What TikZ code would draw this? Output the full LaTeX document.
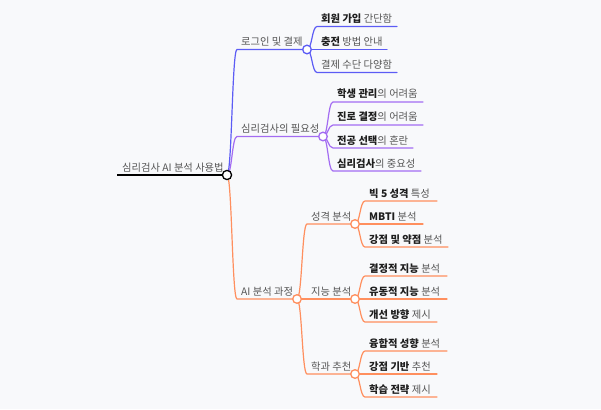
\documentclass[tikz,border=0pt]{standalone}
\usepackage{fontspec}
\setmainfont{Noto Sans CJK KR}
\usetikzlibrary{calc}
\definecolor{bg}{HTML}{F8F9FB}
\definecolor{cblue}{HTML}{5C5CF5}
\definecolor{cpurp}{HTML}{A36CF2}
\definecolor{corng}{HTML}{FF8F5E}
\definecolor{tgray}{HTML}{555555}
\definecolor{tdark}{HTML}{1E1E1E}
\tikzset{
  lbl/.style={anchor=base west, inner sep=0pt, font=\fontsize{10.3}{12}\selectfont, text=tgray},
  dot/.style={circle, draw=#1, fill=white, line width=1.3pt, minimum size=8.6pt, inner sep=0pt},
  branch/.style={draw=#1, line width=1.2pt, line cap=round},
}
\newcommand\bb[1]{{\bfseries\color{tdark}#1}}
% leaf: name, colour, parent, x start, y, x end, text
\newcommand\leaf[7]{%
  \coordinate (#1s) at (#4,#5);
  \coordinate (#1e) at (#6,#5);
  \node[lbl] (#1t) at ($(#1s)+(4,-4)$) {#7};
  \draw[branch=#2] (#3) .. controls ($(#3)+(5,0)$) and ($(#1s)-(5,0)$) .. (#1s) -- (#1e);
}
\begin{document}
\begin{tikzpicture}[x=1pt,y=-1pt]
\fill[bg] (0,0) rectangle (601,409);
\useasboundingbox (0,0) rectangle (601,409);
% centres of the circles
\coordinate (R) at (227,175);
\coordinate (A) at (307,49.5);
\coordinate (B) at (323,136.5);
\coordinate (C) at (297,299);
\coordinate (C1) at (355,224);
\coordinate (C2) at (355,299);
\coordinate (C3) at (355,374);
% root
\coordinate (rs) at (117,175);
\draw[line width=2.4pt] (rs) -- (R);
\node[lbl] (rt) at (122,171) {심리검사 AI 분석 사용법};
% level 1
\leaf{a}{cblue}{R}{237}{49.5}{307}{로그인 및 결제}
\leaf{b}{cpurp}{R}{237}{136.5}{323}{심리검사의 필요성}
\leaf{c}{corng}{R}{237}{299}{297}{AI 분석 과정}
% blue children
\leaf{a1}{cblue}{A}{317}{26.5}{397}{\bb{회원 가입} 간단함}
\leaf{a2}{cblue}{A}{317}{49.5}{387}{\bb{충전} 방법 안내}
\leaf{a3}{cblue}{A}{317}{72.5}{397}{결제 수단 다양함}
% purple children
\leaf{b1}{cpurp}{B}{333}{102}{423}{\bb{학생 관리}의 어려움}
\leaf{b2}{cpurp}{B}{333}{125}{423}{\bb{진로 결정}의 어려움}
\leaf{b3}{cpurp}{B}{333}{148}{413}{\bb{전공 선택}의 혼란}
\leaf{b4}{cpurp}{B}{333}{171}{421}{\bb{심리검사}의 중요성}
% orange sub branches
\leaf{c1}{corng}{C}{307}{224}{355}{성격 분석}
\leaf{c2}{corng}{C}{307}{299}{355}{지능 분석}
\leaf{c3}{corng}{C}{307}{374}{355}{학과 추천}
% orange leaves
\leaf{d1}{corng}{C1}{365}{201}{437}{\bb{빅 5 성격} 특성}
\leaf{d2}{corng}{C1}{365}{224}{423}{\bb{MBTI} 분석}
\leaf{d3}{corng}{C1}{365}{247}{448}{\bb{강점 및 약점} 분석}
\leaf{e1}{corng}{C2}{365}{276}{447}{\bb{결정적 지능} 분석}
\leaf{e2}{corng}{C2}{365}{299}{447}{\bb{유동적 지능} 분석}
\leaf{e3}{corng}{C2}{365}{322}{437}{\bb{개선 방향} 제시}
\leaf{f1}{corng}{C3}{365}{351}{447}{\bb{융합적 성향} 분석}
\leaf{f2}{corng}{C3}{365}{374}{437}{\bb{강점 기반} 추천}
\leaf{f3}{corng}{C3}{365}{397}{437}{\bb{학습 전략} 제시}
% circles on top
\node[dot=black, minimum size=9.2pt] (Rc) at (R) {};
\node[dot=cblue] (Ac) at (A) {};
\node[dot=cpurp] (Bc) at (B) {};
\node[dot=corng] (Cc) at (C) {};
\node[dot=corng] (C1c) at (C1) {};
\node[dot=corng] (C2c) at (C2) {};
\node[dot=corng] (C3c) at (C3) {};
\end{tikzpicture}
\end{document}
